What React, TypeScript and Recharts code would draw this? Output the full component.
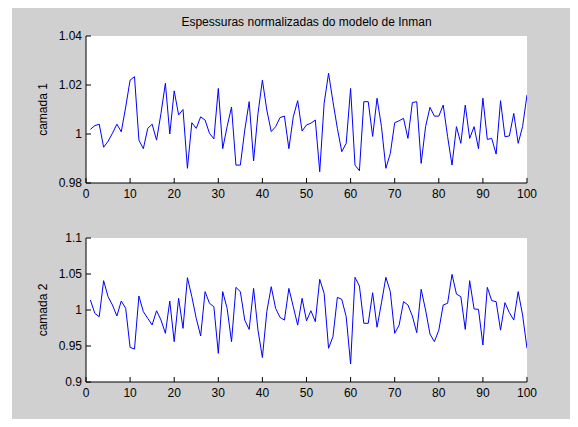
import React from 'react';
import { LineChart, Line, XAxis, YAxis, CartesianGrid } from 'recharts';

const title = 'Espessuras normalizadas do modelo de Inman';
const xTicks = [0, 10, 20, 30, 40, 50, 60, 70, 80, 90, 100];
const ticks1 = [0.98, 1, 1.02, 1.04];
const ticks2 = [0.9, 0.95, 1, 1.05, 1.1];

// camada 1, amostras 1..100
const camada1 = [
  1.0019, 1.0034, 1.004, 0.9946, 0.997, 1.0003, 1.004, 1.0009, 1.011, 1.022,
  1.0234, 0.9975, 0.994, 1.0023, 1.004, 0.9975, 1.0084, 1.0207, 1.0, 1.0176,
  1.0078, 1.01, 0.986, 1.0046, 1.0023, 1.007, 1.0057, 1.0003, 0.998, 1.0186,
  0.994, 1.003, 1.011, 0.9873, 0.9873, 1.0016, 1.0132, 0.989, 1.0084, 1.022,
  1.0098, 1.001, 1.003, 1.0067, 1.0073, 0.994, 1.007, 1.0136, 1.0012, 1.0037,
  1.0044, 1.0057, 0.9846, 1.0125, 1.0248, 1.0132, 1.0023, 0.9928, 0.9962, 1.0186,
  0.9873, 0.985, 1.0132, 1.0132, 0.999, 1.0146, 1.003, 0.986, 0.992, 1.0046,
  1.0054, 1.0064, 0.9982, 1.0128, 1.0132, 0.988, 1.003, 1.0109, 1.0073, 1.0073,
  1.0118, 0.9989, 0.9873, 1.003, 0.9962, 1.0118, 0.9982, 1.003, 0.994, 1.0146,
  0.9978, 0.9982, 0.9918, 1.0136, 0.9989, 0.9992, 1.0084, 0.9962, 1.003, 1.016,
];

// camada 2, amostras 1..100
const camada2 = [
  1.0139, 0.9954, 0.9907, 1.0407, 1.0185, 1.0069, 0.9917, 1.0125, 1.0023, 0.948,
  0.9458, 1.0194, 0.9977, 0.9884, 0.9792, 0.999, 0.9861, 0.9676, 1.0125, 0.956,
  1.0162, 0.9745, 1.0449, 1.0185, 0.9884, 0.9639, 1.0255, 1.0093, 1.0046, 0.9398,
  1.0255, 1.0023, 0.956, 1.0315, 1.0255, 0.986, 0.973, 1.03, 0.972, 0.934,
  0.9977, 1.0324, 1.0023, 0.9898, 0.986, 1.03, 1.0046, 0.979, 1.0162, 0.985,
  0.999, 0.9838, 1.0426, 1.0231, 0.9468, 0.963, 1.0176, 1.0148, 0.9907, 0.925,
  1.0454, 1.0333, 0.9815, 0.9815, 1.024, 0.976, 1.01, 1.0454, 1.0255, 0.9676,
  0.979, 1.0116, 1.007, 0.9917, 0.9685, 1.0287, 1.0, 0.9667, 0.956, 0.972,
  1.007, 1.0093, 1.0495, 1.0222, 1.0185, 0.973, 1.0407, 1.0014, 1.0009, 0.9514,
  1.0315, 1.013, 1.0116, 0.972, 1.0102, 0.9963, 0.986, 1.0255, 0.993, 0.9468,
];

const data = camada1.map((v, i) => ({ x: i + 1, c1: v, c2: camada2[i] }));

const font = '"Liberation Sans", Arial, sans-serif';
const tickStyle = { fill: '#000', fontSize: 12, fontFamily: font };
const blank = () => '';

const Panel = ({ dataKey, yTicks, label, height, margin }) => (
  <LineChart width={578} height={height} data={data} margin={margin}>
    <CartesianGrid fill="#ffffff" stroke="none" horizontal={false} vertical={false} />
    <XAxis
      xAxisId="b" dataKey="x" type="number" domain={[0, 100]} ticks={xTicks}
      height={20} tickSize={-5} tickMargin={11} interval={0}
      stroke="#000" tick={tickStyle} allowDataOverflow
    />
    <XAxis
      xAxisId="t" orientation="top" dataKey="x" type="number" domain={[0, 100]} ticks={xTicks}
      height={0} tickSize={-5} tickFormatter={blank} interval={0}
      stroke="#000" allowDataOverflow
    />
    <YAxis
      yAxisId="l" type="number" domain={[yTicks[0], yTicks[yTicks.length - 1]]} ticks={yTicks}
      width={60} tickSize={-5} tickMargin={9} interval={0}
      stroke="#000" tick={tickStyle} allowDataOverflow
      label={{
        content: ({ viewBox }) => {
          const cx = viewBox.x + 17;
          const cy = viewBox.y + viewBox.height / 2;
          return (
            <text x={cx} y={cy} transform={`rotate(-90, ${cx}, ${cy})`} textAnchor="middle"
              dominantBaseline="central" fontSize={12} fontFamily={font} fill="#000">{label}</text>
          );
        },
      }}
    />
    <YAxis
      yAxisId="r" orientation="right" type="number" domain={[yTicks[0], yTicks[yTicks.length - 1]]}
      ticks={yTicks} width={0} tickSize={-5} tickFormatter={blank} interval={0}
      stroke="#000" allowDataOverflow
    />
    <Line
      xAxisId="b" yAxisId="l" type="linear" dataKey={dataKey} stroke="#0000ff"
      strokeWidth={1} dot={false} isAnimationActive={false}
    />
  </LineChart>
);

const App = () => (
  <div style={{ position: 'relative', width: 578, height: 427, margin: -8, background: '#fff', overflow: 'hidden' }}>
    <div style={{ position: 'absolute', left: 12, top: 4, width: 566, height: 423, background: '#d0d0d0' }} />
    <div style={{
      position: 'absolute', left: 86, top: 15, width: 441, textAlign: 'center',
      fontFamily: font, fontSize: 12, lineHeight: '14px', color: '#000',
    }}>
      {title}
    </div>
    <div style={{ position: 'absolute', left: 0, top: 0 }}>
      <Panel dataKey="c1" yTicks={ticks1} label="camada 1" height={210}
        margin={{ top: 36, left: 26, right: 51, bottom: 7 }} />
    </div>
    <div style={{ position: 'absolute', left: 0, top: 200 }}>
      <Panel dataKey="c2" yTicks={ticks2} label="camada 2" height={227}
        margin={{ top: 38, left: 26, right: 51, bottom: 25 }} />
    </div>
  </div>
);

export default App;
